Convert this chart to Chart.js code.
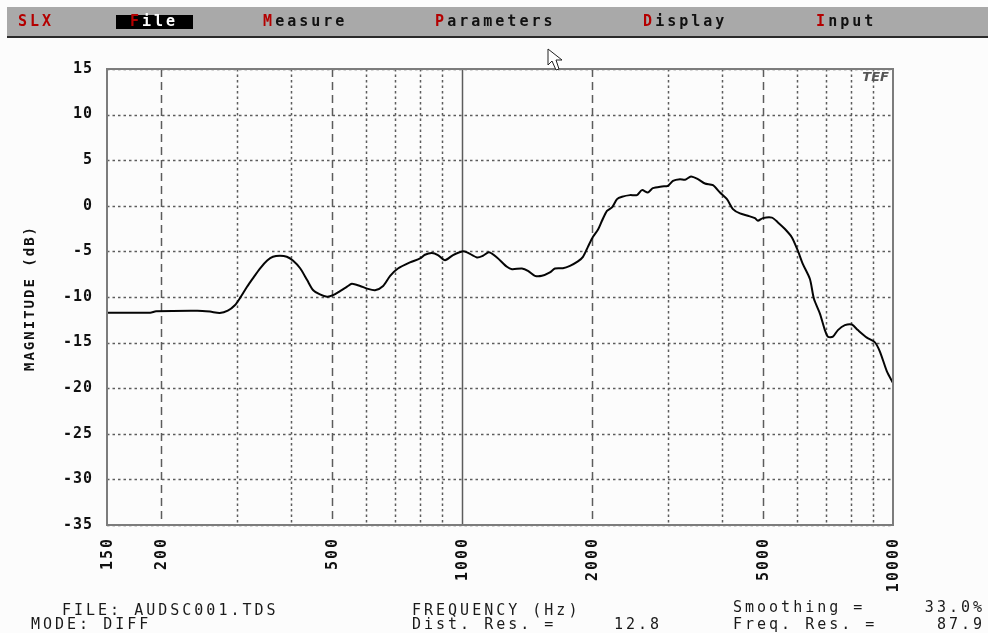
<!DOCTYPE html>
<html>
<head>
<meta charset="utf-8">
<script src="https://cdn.jsdelivr.net/npm/chart.js@4/dist/chart.umd.min.js"></script>
<style>
    html, body { margin: 0; padding: 0; background: #fcfcfc; }
    #wrap { width: 988px; height: 633px; }
</style>
</head>
<body>
<div id="wrap"><canvas id="myChart" width="988" height="633"></canvas></div>
<script>
// frequency (Hz) and magnitude (dB)
const freqs = [150, 189, 195, 243, 260, 274, 286, 297, 305, 317, 327, 340, 353, 364, 378, 392, 405, 421, 437, 451,
    468, 486, 502, 521, 541, 555, 580, 602, 628, 656, 681, 710, 757, 799, 820, 851, 879, 913, 953, 1000,
    1027, 1083, 1118, 1155, 1205, 1271, 1306, 1377, 1422, 1476, 1532, 1599, 1643, 1714, 1780, 1857, 1908, 1959, 2013, 2068,
    2112, 2169, 2228, 2289, 2351, 2453, 2546, 2615, 2699, 2772, 2910, 3004, 3086, 3204, 3291, 3398, 3527, 3661, 3821, 3967,
    4118, 4252, 4415, 4607, 4782, 4859, 4990, 5236, 5407, 5614, 5827, 6017, 6179, 6415, 6554, 6767, 6950, 7063, 7254, 7450,
    7733, 8027, 8289, 8697, 9078, 9324, 9678, 10000];
const mags = [-11.72, -11.72, -11.57, -11.5, -11.6, -11.75, -11.5, -10.9, -10.15, -8.87, -7.95, -6.85, -6.0, -5.58, -5.47, -5.58, -6.0, -6.85, -8.14, -9.23,
    -9.71, -9.96, -9.8, -9.35, -8.87, -8.55, -8.79, -9.08, -9.26, -8.79, -7.68, -6.88, -6.21, -5.77, -5.37, -5.18, -5.4, -5.96, -5.4, -5.0,
    -5.1, -5.66, -5.48, -5.1, -5.66, -6.69, -6.95, -6.88, -7.13, -7.68, -7.68, -7.3, -6.88, -6.84, -6.58, -6.1, -5.6, -4.5, -3.4, -2.6,
    -1.64, -0.55, -0.18, 0.73, 0.99, 1.17, 1.17, 1.72, 1.46, 1.93, 2.12, 2.19, 2.74, 2.92, 2.85, 3.21, 2.92, 2.45, 2.26, 1.46,
    0.73, -0.36, -0.84, -1.09, -1.35, -1.64, -1.35, -1.3, -1.82, -2.55, -3.47, -4.95, -6.4, -8.03, -10.2, -11.82, -13.63, -14.35, -14.35, -13.63,
    -13.09, -13.02, -13.63, -14.46, -14.97, -15.98, -18.15, -19.42];

const yTicks = [15, 10, 5, 0, -5, -10, -15, -20, -25, -30, -35];
const xLabels = [150, 200, 500, 1000, 2000, 5000, 10000];
const xGridDashed = [200, 500, 2000, 5000];
const xGridDotted = [300, 400, 600, 700, 800, 900, 3000, 4000, 6000, 7000, 8000, 9000];
const xGridSolid = [1000];

const menuItems = [
    { key: "M", rest: "easure", x: 263 },
    { key: "P", rest: "arameters", x: 435 },
    { key: "D", rest: "isplay", x: 643 },
    { key: "I", rest: "nput", x: 816 }
];

const MONO = "'DejaVu Sans Mono', 'Liberation Mono', monospace";
const RED = "#b40000";

/* draws the DOS-style screen around the plot */
const screenPlugin = {
    id: "screen",
    beforeDraw(chart) {
        const ctx = chart.ctx;
        ctx.save();
        ctx.fillStyle = "#fcfcfc";
        ctx.fillRect(0, 0, chart.width, chart.height);

        // menu bar
        ctx.fillStyle = "#a9a9a9";
        ctx.fillRect(7, 7, chart.width - 7, 29);
        ctx.fillStyle = "#2a2a2a";
        ctx.fillRect(7, 36, chart.width - 7, 2);

        ctx.font = "bold 15px " + MONO;
        ctx.letterSpacing = "3px";
        ctx.textBaseline = "middle";
        ctx.textAlign = "left";
        ctx.fillStyle = RED;
        ctx.fillText("SLX", 18, 22);

        ctx.fillStyle = "#000";
        ctx.fillRect(116, 15, 77, 14);
        ctx.fillStyle = RED;
        ctx.fillText("F", 130, 22);
        ctx.fillStyle = "#fff";
        ctx.fillText("ile", 142, 22);

        for (let m of menuItems) {
            ctx.fillStyle = RED;
            ctx.fillText(m.key, m.x, 22);
            ctx.fillStyle = "#111";
            ctx.fillText(m.rest, m.x + 12.2, 22);
        }

        // footer text
        ctx.fillStyle = "#1a1a1a";
        ctx.letterSpacing = "3px";
        ctx.font = "15px " + MONO;
        ctx.fillText("FILE: AUDSC001.TDS", 62, 611);
        ctx.fillText("MODE: DIFF", 31, 625);
        ctx.fillText("FREQUENCY (Hz)", 412, 611);
        ctx.fillText("Dist. Res. =", 412, 625);
        ctx.fillText("Smoothing =", 733, 608);
        ctx.fillText("Freq. Res. =", 733, 625);
        ctx.textAlign = "right";
        ctx.fillText("12.8", 662, 625);
        ctx.fillText("33.0%", 985, 608);
        ctx.fillText("87.9", 985, 625);

        // y axis title
        ctx.save();
        ctx.translate(30, 298);
        ctx.rotate(-Math.PI / 2);
        ctx.textAlign = "center";
        ctx.font = "bold 14px " + MONO;
        ctx.letterSpacing = "2px";
        ctx.fillStyle = "#111";
        ctx.fillText("MAGNITUDE (dB)", 0, 0);
        ctx.restore();
        ctx.restore();
    },
    beforeDatasetsDraw(chart) {
        const ctx = chart.ctx;
        const area = chart.chartArea;
        const xs = chart.scales.x;
        const ys = chart.scales.y;
        ctx.save();
        ctx.strokeStyle = "#5c5c5c";
        ctx.lineWidth = 1.5;

        // horizontal grid
        ctx.setLineDash([2.5, 3]);
        for (let v of yTicks) {
            const py = Math.round(ys.getPixelForValue(v)) + 0.5;
            ctx.beginPath();
            ctx.moveTo(area.left, py);
            ctx.lineTo(area.right, py);
            ctx.stroke();
        }
        // vertical grid
        for (let f of xGridDotted) {
            const px = Math.round(xs.getPixelForValue(f)) + 0.5;
            ctx.beginPath();
            ctx.moveTo(px, area.top);
            ctx.lineTo(px, area.bottom);
            ctx.stroke();
        }
        ctx.setLineDash([8, 5]);
        for (let f of xGridDashed) {
            const px = Math.round(xs.getPixelForValue(f)) + 0.5;
            ctx.beginPath();
            ctx.moveTo(px, area.top);
            ctx.lineTo(px, area.bottom);
            ctx.stroke();
        }
        ctx.setLineDash([]);
        for (let f of xGridSolid) {
            const px = Math.round(xs.getPixelForValue(f)) + 0.5;
            ctx.beginPath();
            ctx.moveTo(px, area.top);
            ctx.lineTo(px, area.bottom);
            ctx.stroke();
        }

        // tick labels
        ctx.fillStyle = "#111";
        ctx.font = "bold 15px " + MONO;
        ctx.letterSpacing = "1px";
        ctx.textAlign = "right";
        ctx.textBaseline = "middle";
        for (let v of yTicks) {
            ctx.fillText(String(v), 93, ys.getPixelForValue(v));
        }
        ctx.letterSpacing = "2px";
        for (let f of xLabels) {
            ctx.save();
            ctx.translate(xs.getPixelForValue(f), 537);
            ctx.rotate(-Math.PI / 2);
            ctx.fillText(String(f), 0, 1);
            ctx.restore();
        }
        ctx.restore();
    },
    afterDatasetsDraw(chart) {
        const ctx = chart.ctx;
        const area = chart.chartArea;
        ctx.save();
        // plot frame
        ctx.strokeStyle = "#7c7c7c";
        ctx.lineWidth = 2;
        ctx.strokeRect(area.left, area.top, area.right - area.left, area.bottom - area.top);

        // TEF logo
        ctx.fillStyle = "#555";
        ctx.font = "italic bold 13px 'DejaVu Sans', sans-serif";
        ctx.textAlign = "right";
        ctx.textBaseline = "top";
        ctx.fillText("TEF", area.right - 4, area.top + 2);

        // mouse pointer
        ctx.beginPath();
        ctx.moveTo(548, 49);
        ctx.lineTo(548, 65);
        ctx.lineTo(552, 61);
        ctx.lineTo(556, 70);
        ctx.lineTo(559, 69);
        ctx.lineTo(556, 60);
        ctx.lineTo(562, 60);
        ctx.closePath();
        ctx.fillStyle = "#fff";
        ctx.fill();
        ctx.strokeStyle = "#222";
        ctx.lineWidth = 1;
        ctx.stroke();
        ctx.restore();
    }
};

let points = [];
for (let i = 0; i < freqs.length; i++) {
    points.push({ x: freqs[i], y: mags[i] });
}

new Chart("myChart", {
    type: "line",
    data: {
        datasets: [{
            data: points,
            borderColor: "#050505",
            borderWidth: 2,
            pointRadius: 0,
            tension: 0.25,
            fill: false
        }]
    },
    options: {
        responsive: false,
        animation: false,
        events: [],
        layout: {
            padding: { left: 107, right: 95, top: 69, bottom: 108 }
        },
        plugins: {
            legend: { display: false },
            tooltip: { enabled: false }
        },
        scales: {
            x: { type: "logarithmic", min: 150, max: 10000, display: false },
            y: { type: "linear", min: -35, max: 15, display: false }
        }
    },
    plugins: [screenPlugin]
});
</script>
</body>
</html>
